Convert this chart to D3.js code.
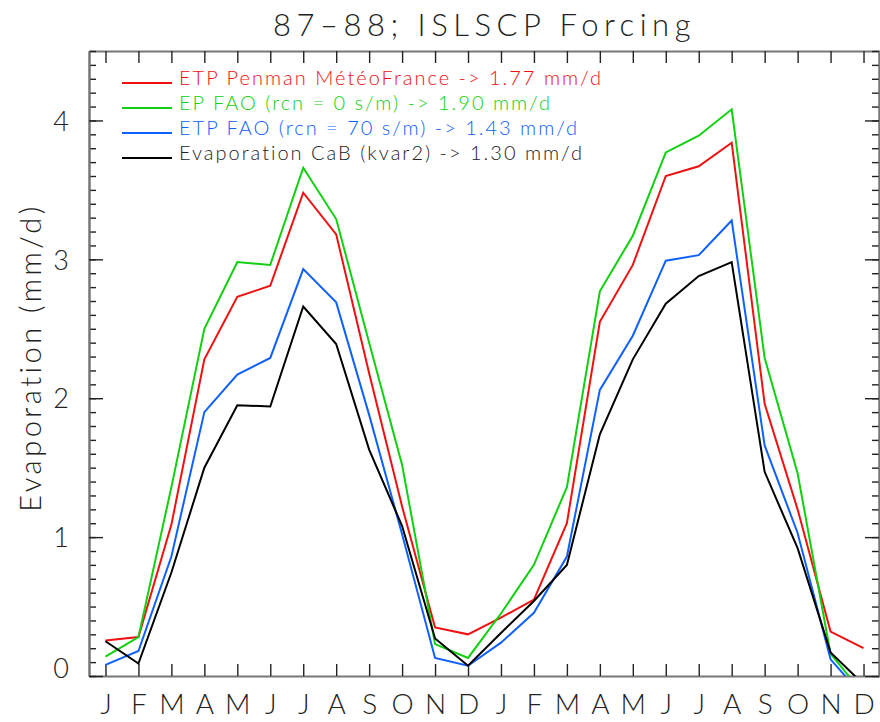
<!DOCTYPE html>
<html>
<head>
<meta charset="utf-8">
<script src="https://cdn.jsdelivr.net/npm/d3@7"></script>
<style>
  body { margin: 0; background: #fff; }
  svg, svg text { font-family: "Lato", "DejaVu Sans", sans-serif; font-weight: 300; }
  .frame .domain { stroke: #777; stroke-width: 2; }
  .frame .tick line { stroke: #222; stroke-width: 1.4; }
  .frame .tick text { fill: #222; font-family: "Lato", sans-serif; font-weight: 300; }
</style>
</head>
<body>
<div id="chart"></div>
<script>

// months, two years
var months = ["J","F","M","A","M","J","J","A","S","O","N","D",
              "J","F","M","A","M","J","J","A","S","O","N","D"];

var etp_penman = [0.255, 0.28, 1.09, 2.28, 2.73, 2.81, 3.48, 3.18, 2.18, 1.22, 0.35, 0.30,
                  0.42, 0.55, 1.10, 2.55, 2.96, 3.60, 3.67, 3.84, 1.96, 1.20, 0.32, 0.20];
var ep_fao0    = [0.14, 0.28, 1.36, 2.50, 2.98, 2.96, 3.66, 3.29, 2.40, 1.52, 0.23, 0.13,
                  0.45, 0.80, 1.36, 2.77, 3.17, 3.77, 3.89, 4.08, 2.29, 1.46, 0.16, -0.13];
var etp_fao70  = [0.08, 0.18, 0.86, 1.90, 2.17, 2.29, 2.93, 2.69, 1.88, 1.02, 0.13, 0.074,
                  0.24, 0.455, 0.86, 2.06, 2.45, 2.99, 3.03, 3.28, 1.66, 1.03, 0.12, -0.15];
var evap_cab   = [0.25, 0.09, 0.745, 1.50, 1.95, 1.94, 2.66, 2.39, 1.63, 1.08, 0.27, 0.074,
                  0.31, 0.54, 0.80, 1.74, 2.28, 2.68, 2.88, 2.98, 1.47, 0.92, 0.17, -0.06];

var series_names  = ["ETP Penman MétéoFrance -> 1.77 mm/d",
                     "EP FAO (rcn = 0 s/m) -> 1.90 mm/d",
                     "ETP FAO (rcn = 70 s/m) -> 1.43 mm/d",
                     "Evaporation CaB (kvar2) -> 1.30 mm/d"];
var series_values = [etp_penman, ep_fao0, etp_fao70, evap_cab];
var series_colors = ["#f01010", "#10d010", "#1060ff", "#000000"];

var y_major = [0, 1, 2, 3, 4];
var y_minor = d3.range(0, 46).map(function(i) { return i / 10; });

var title = "87\u201388; ISLSCP Forcing";
var y_title = "Evaporation (mm/d)";

/* Renderer */

var width = 880, height = 722;
// plot box (note: "top" is reserved on window, so prefix everything)
var p_left = 89, p_right = 880, p_top = 51, p_bottom = 676;

var svg = d3.select("#chart").append("svg")
    .attr("width", width)
    .attr("height", height);

var x = d3.scaleLinear().domain([-0.5, 23.5]).range([p_left, p_right]);
var y = d3.scaleLinear().domain([0, 4.5]).range([p_bottom, p_top]);

svg.append("clipPath").attr("id", "plot-clip")
  .append("rect")
    .attr("x", p_left).attr("y", p_top)
    .attr("width", p_right - p_left).attr("height", p_bottom - p_top);

// bottom axis with month letters
var xb = svg.append("g").classed("frame", true)
    .attr("transform", "translate(0," + p_bottom + ")")
    .call(d3.axisBottom(x)
        .tickValues(d3.range(months.length))
        .tickSize(-12).tickSizeOuter(0)
        .tickPadding(18)
        .tickFormat(function(i) { return months[i]; }));
xb.attr("font-family", null);
xb.selectAll(".tick text").style("font-size", "28px");

// top axis
svg.append("g").classed("frame", true)
    .attr("transform", "translate(0," + p_top + ")")
    .call(d3.axisTop(x)
        .tickValues(d3.range(months.length))
        .tickSize(-12).tickSizeOuter(0)
        .tickFormat(""));

// left axis: minor then major
svg.append("g").classed("frame", true)
    .attr("transform", "translate(" + p_left + ",0)")
    .call(d3.axisLeft(y).tickValues(y_minor).tickSize(-7).tickSizeOuter(0).tickFormat(""));
var yl = svg.append("g").classed("frame", true)
    .attr("transform", "translate(" + p_left + ",0)")
    .call(d3.axisLeft(y).tickValues(y_major).tickSize(-14).tickSizeOuter(0)
        .tickPadding(20).tickFormat(d3.format("d")));
yl.attr("font-family", null);
yl.selectAll(".tick text")
    .style("font-size", "27px")
    .attr("dy", function(d) { return d === 0 ? "0.05em" : "0.36em"; });

// right axis
svg.append("g").classed("frame", true)
    .attr("transform", "translate(" + (p_right - 1) + ",0)")
    .call(d3.axisRight(y).tickValues(y_minor).tickSize(-7).tickSizeOuter(0).tickFormat(""));
svg.append("g").classed("frame", true)
    .attr("transform", "translate(" + (p_right - 1) + ",0)")
    .call(d3.axisRight(y).tickValues(y_major).tickSize(-14).tickSizeOuter(0).tickFormat(""));

// lines
var line = d3.line()
    .x(function(d, i) { return x(i); })
    .y(function(d) { return y(d); });

svg.append("g")
    .attr("clip-path", "url(#plot-clip)")
  .selectAll(".series")
  .data(series_values)
  .enter().append("path")
    .classed("series", true)
    .attr("d", line)
    .attr("fill", "none")
    .attr("stroke", function(d, i) { return series_colors[i]; })
    .attr("stroke-width", 2)
    .attr("stroke-linejoin", "miter");

// legend
var legend = svg.append("g").classed("legend", true);
var leg = legend.selectAll(".entry")
    .data(series_names)
    .enter().append("g")
    .attr("transform", function(d, i) { return "translate(122," + (83 + i * 25) + ")"; });
leg.append("line")
    .attr("x1", 0).attr("x2", 50)
    .attr("stroke", function(d, i) { return series_colors[i]; })
    .attr("stroke-width", 2);
leg.append("text")
    .attr("x", 57).attr("y", 2)
    .style("font-size", "20px")
    .style("letter-spacing", "2px")
    .attr("fill", function(d, i) { return i === 3 ? "#222" : series_colors[i]; })
    .text(function(d) { return d; });

// titles
svg.append("text")
    .attr("x", (p_left + p_right) / 2).attr("y", 36)
    .attr("text-anchor", "middle")
    .style("font-size", "31px")
    .style("letter-spacing", "5.5px")
    .attr("fill", "#222")
    .text(title);

svg.append("text")
    .attr("transform", "translate(41," + ((p_top + p_bottom) / 2 - 6) + ") rotate(-90)")
    .attr("text-anchor", "middle")
    .style("font-size", "29px")
    .style("letter-spacing", "3.5px")
    .attr("fill", "#222")
    .text(y_title);

</script>
</body>
</html>
